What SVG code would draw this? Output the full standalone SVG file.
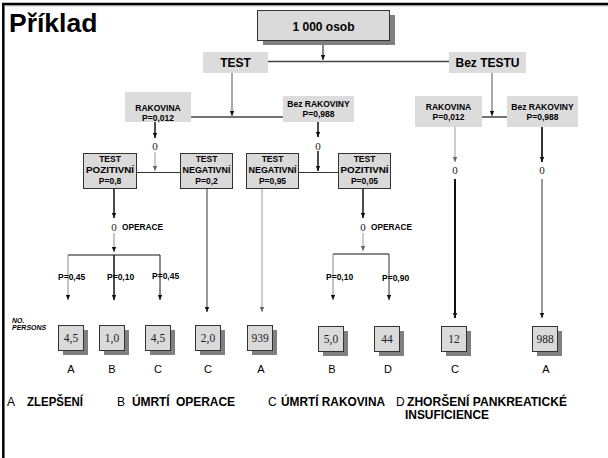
<svg xmlns="http://www.w3.org/2000/svg" width="608" height="458" viewBox="0 0 608 458">
<style>
.t{font-family:"Liberation Sans",Arial,sans-serif;fill:#000}
.b{font-weight:bold}
.s{font-size:8.5px;font-weight:bold;text-anchor:middle}
.n{font-family:"Liberation Serif","Times New Roman",serif;font-size:11.5px;fill:#222;text-anchor:middle}
.z{font-family:"Liberation Serif","Times New Roman",serif;font-size:11px;fill:#222;text-anchor:middle}
.lb{fill:#dcdcdc}
.bx{fill:#dadada;stroke:#333;stroke-width:1}
.sh{fill:#808080}
.k{stroke:#111;fill:none}
.g{stroke:#999;fill:none;stroke-width:1}
.d{stroke:#444;fill:none}
</style>
<defs>
<marker id="ak" markerWidth="5" markerHeight="5" refX="5" refY="2.2" orient="auto" markerUnits="userSpaceOnUse"><path d="M0,0 L5,2.2 L0,4.4 z" fill="#111"/></marker>
<marker id="ag" markerWidth="5" markerHeight="5" refX="5" refY="2.2" orient="auto" markerUnits="userSpaceOnUse"><path d="M0,0 L5,2.2 L0,4.4 z" fill="#666"/></marker>
</defs>
<rect width="608" height="458" fill="#fff"/>
<path d="M3.3,458 V4 H608" fill="none" stroke="#000" stroke-width="2.5"/>
<line x1="4" y1="5.8" x2="608" y2="5.8" stroke="#999" stroke-width="1"/>
<text class="t b" x="9" y="32" font-size="26.5">Příklad</text>

<g id="connectors">
<path class="k" d="M323,40 V60" stroke-width="1" marker-end="url(#ak)"/>
<path class="d" d="M268,61.5 H449" stroke-width="1.5"/>
<path d="M232,73 V116" stroke="#555" stroke-width="1" fill="none" marker-end="url(#ak)"/>
<path class="d" d="M191,117 H283" stroke-width="1.5"/>
<path class="k" d="M155,122 V138" stroke-width="1.5" marker-end="url(#ak)"/>
<path class="g" d="M155,152 V171" marker-end="url(#ag)"/>
<path d="M136,172.5 H180" stroke="#333" stroke-width="1" fill="none"/>
<path class="k" d="M318,122 V137" stroke-width="1.5" marker-end="url(#ak)"/>
<path class="k" d="M318,151 V171" stroke-width="1.5" marker-end="url(#ak)"/>
<path d="M298,172.5 H338" stroke="#333" stroke-width="1" fill="none"/>
<path d="M492,73 V116" stroke="#555" stroke-width="1" fill="none" marker-end="url(#ak)"/>
<path class="d" d="M482,117 H507" stroke-width="1.5"/>
<path class="g" d="M455,127 V162" marker-end="url(#ag)"/>
<path d="M542,127 V162" stroke="#333" stroke-width="2" fill="none" marker-end="url(#ak)"/>
<path class="k" d="M455,179 V318" stroke-width="2" marker-end="url(#ak)"/>
<path d="M542,179 V318" stroke="#333" stroke-width="1" fill="none" marker-end="url(#ak)"/>
<path class="k" d="M114,188 V218" stroke-width="1.5" marker-end="url(#ak)"/>
<path d="M114,233 V252" stroke="#888" stroke-width="1" fill="none" marker-end="url(#ak)"/>
<path class="k" d="M68,255 H160" stroke-width="1"/>
<path d="M68,255 V300" stroke="#888" stroke-width="1" fill="none" marker-end="url(#ak)"/>
<path class="k" d="M114,255 V300" stroke-width="1.5" marker-end="url(#ak)"/>
<path class="k" d="M160,255 V300" stroke-width="1" marker-end="url(#ak)"/>
<path d="M207,188 V312" stroke="#333" stroke-width="1" fill="none" marker-end="url(#ak)"/>
<path class="g" d="M262,188 V312" marker-end="url(#ag)"/>
<path class="k" d="M363,188 V218" stroke-width="1.5" marker-end="url(#ak)"/>
<path class="g" d="M363,233 V251" marker-end="url(#ag)"/>
<path class="k" d="M333,254 H389" stroke-width="1"/>
<path d="M333,254 V300" stroke="#888" stroke-width="1" fill="none" marker-end="url(#ak)"/>
<path d="M389,254 V300" stroke="#333" stroke-width="1" fill="none" marker-end="url(#ak)"/>
</g>

<g id="n-root">
<rect class="sh" x="263" y="15" width="132" height="30"/>
<rect class="bx" x="257.5" y="10.5" width="132" height="30"/>
<text class="t b" x="323.5" y="31" font-size="12" text-anchor="middle">1 000 osob</text>
</g>
<g id="n-test">
<rect class="lb" x="203" y="52" width="65" height="21"/>
<text class="t b" x="235.5" y="67" font-size="12" text-anchor="middle">TEST</text>
</g>
<g id="n-beztestu">
<rect class="lb" x="449" y="52" width="77" height="21"/>
<text class="t b" x="487.5" y="67" font-size="12" text-anchor="middle">Bez TESTU</text>
</g>
<g id="n-rak1">
<rect class="lb" x="125" y="92" width="66" height="30"/>
<text class="t s" x="158" y="111">RAKOVINA</text>
<text class="t s" x="158" y="121">P=0,012</text>
</g>
<g id="n-bezrak1">
<rect class="lb" x="283" y="96" width="71" height="26"/>
<text class="t s" x="318.5" y="107">Bez RAKOVINY</text>
<text class="t s" x="318.5" y="117">P=0,988</text>
</g>
<g id="n-rak2">
<rect class="lb" x="415" y="96" width="67" height="31"/>
<text class="t s" x="448.5" y="110">RAKOVINA</text>
<text class="t s" x="448.5" y="120">P=0,012</text>
</g>
<g id="n-bezrak2">
<rect class="lb" x="507" y="96" width="71" height="31"/>
<text class="t s" x="542.5" y="110">Bez RAKOVINY</text>
<text class="t s" x="542.5" y="120">P=0,988</text>
</g>

<g id="zeros">
<text class="z" x="155" y="150">0</text>
<text class="z" x="318" y="150">0</text>
<text class="z" x="455" y="174">0</text>
<text class="z" x="542" y="174">0</text>
</g>

<g id="n-poz1">
<rect class="bx" x="83.5" y="153.5" width="53" height="35"/>
<text class="t s" x="110" y="162">TEST</text>
<text class="t s" x="110" y="173" textLength="48" lengthAdjust="spacingAndGlyphs">POZITIVNÍ</text>
<text class="t s" x="110" y="183.5">P=0,8</text>
</g>
<g id="n-neg1">
<rect class="bx" x="180.5" y="153.5" width="52" height="35"/>
<text class="t s" x="206.5" y="162">TEST</text>
<text class="t s" x="206.5" y="173" textLength="48" lengthAdjust="spacingAndGlyphs">NEGATIVNÍ</text>
<text class="t s" x="206.5" y="183.5">P=0,2</text>
</g>
<g id="n-neg2">
<rect class="bx" x="246.5" y="153.5" width="52" height="35"/>
<text class="t s" x="272.5" y="162">TEST</text>
<text class="t s" x="272.5" y="173" textLength="48" lengthAdjust="spacingAndGlyphs">NEGATIVNÍ</text>
<text class="t s" x="272.5" y="183.5">P=0,95</text>
</g>
<g id="n-poz2">
<rect class="bx" x="338.5" y="153.5" width="52" height="35"/>
<text class="t s" x="364.5" y="162">TEST</text>
<text class="t s" x="364.5" y="173" textLength="48" lengthAdjust="spacingAndGlyphs">POZITIVNÍ</text>
<text class="t s" x="364.5" y="183.5">P=0,05</text>
</g>

<g id="n-op1">
<text class="z" x="114" y="231">0</text>
<text class="t b" x="122" y="230" font-size="8.3">OPERACE</text>
</g>
<g id="n-op2">
<text class="z" x="363" y="231">0</text>
<text class="t b" x="371" y="230" font-size="8.3">OPERACE</text>
</g>

<g id="probs" class="t b" font-size="8.5">
<text x="58" y="280">P=0,45</text>
<text x="107" y="280">P=0,10</text>
<text x="152" y="279">P=0,45</text>
<text x="326" y="280">P=0,10</text>
<text x="382" y="281">P=0,90</text>
</g>

<g id="n-persons" class="t b" font-size="7" font-style="italic">
<text x="12" y="323">NO.</text>
<text x="12" y="330">PERSONS</text>
</g>

<g id="n-r1"><rect class="sh" x="63" y="330" width="25" height="25"/><rect class="bx" x="58.5" y="325.5" width="25" height="25"/><text class="n" x="71" y="342">4,5</text></g>
<g id="n-r2"><rect class="sh" x="104" y="330" width="25" height="25"/><rect class="bx" x="99.5" y="325.5" width="25" height="25"/><text class="n" x="112" y="342">1,0</text></g>
<g id="n-r3"><rect class="sh" x="150" y="330" width="25" height="25"/><rect class="bx" x="145.5" y="325.5" width="25" height="25"/><text class="n" x="158" y="342">4,5</text></g>
<g id="n-r4"><rect class="sh" x="200" y="330" width="25" height="25"/><rect class="bx" x="195.5" y="325.5" width="25" height="25"/><text class="n" x="208" y="342">2,0</text></g>
<g id="n-r5"><rect class="sh" x="252" y="330" width="25" height="25"/><rect class="bx" x="247.5" y="325.5" width="25" height="25"/><text class="n" x="260" y="342">939</text></g>
<g id="n-r6"><rect class="sh" x="323" y="331" width="25" height="25"/><rect class="bx" x="318.5" y="326.5" width="25" height="25"/><text class="n" x="331" y="343">5,0</text></g>
<g id="n-r7"><rect class="sh" x="379" y="331" width="25" height="25"/><rect class="bx" x="374.5" y="326.5" width="25" height="25"/><text class="n" x="387" y="343">44</text></g>
<g id="n-r8"><rect class="sh" x="446" y="331" width="25" height="25"/><rect class="bx" x="441.5" y="326.5" width="25" height="25"/><text class="n" x="454" y="343">12</text></g>
<g id="n-r9"><rect class="sh" x="537" y="331" width="25" height="25"/><rect class="bx" x="532.5" y="326.5" width="25" height="25"/><text class="n" x="545" y="343">988</text></g>

<g id="outcomes" class="t" font-size="11" text-anchor="middle">
<text x="71" y="373">A</text>
<text x="112" y="373">B</text>
<text x="158" y="373">C</text>
<text x="208" y="373">C</text>
<text x="261" y="373">A</text>
<text x="332" y="373">B</text>
<text x="388" y="373">D</text>
<text x="455" y="373">C</text>
<text x="546" y="373">A</text>
</g>

<g id="legend" class="t" font-size="12">
<text x="7" y="406">A</text>
<text x="27" y="406" class="b" textLength="56" lengthAdjust="spacingAndGlyphs">ZLEPŠENÍ</text>
<text x="117" y="406">B</text>
<text x="132" y="406" class="b" textLength="103" lengthAdjust="spacing" xml:space="preserve">ÚMRTÍ  OPERACE</text>
<text x="268" y="406">C</text>
<text x="281" y="406" class="b" textLength="104" lengthAdjust="spacingAndGlyphs">ÚMRTÍ RAKOVINA</text>
<text x="396" y="406">D</text>
<text x="407" y="406" class="b" textLength="160" lengthAdjust="spacingAndGlyphs">ZHORŠENÍ PANKREATICKÉ</text>
<text x="405" y="419" class="b" textLength="84" lengthAdjust="spacingAndGlyphs">INSUFICIENCE</text>
</g>
</svg>
